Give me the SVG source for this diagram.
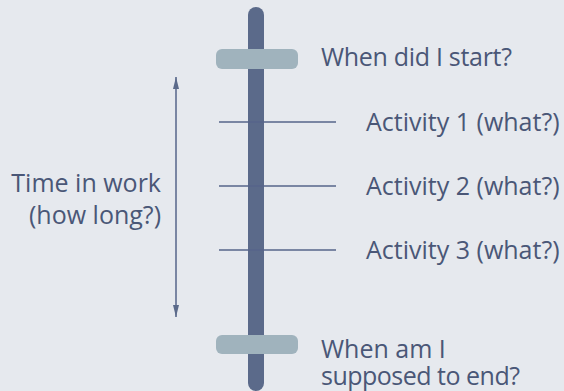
<svg xmlns="http://www.w3.org/2000/svg" width="564" height="391" viewBox="0 0 564 391">
  <style>
    .lbl { font-family: "Open Sans", "Noto Sans", sans-serif; font-size: 25px; fill: #4A5777; }
    .tick { stroke: #56658A; stroke-width: 1.5; fill: none; }
    .cap { fill: #A0B3BD; }
    .bar { fill: #5B6A8A; }
  </style>
  <defs>
    <marker id="ah" viewBox="0 0 12 6" refX="12" refY="3" markerWidth="12" markerHeight="6" markerUnits="userSpaceOnUse" orient="auto-start-reverse">
      <path d="M0,0 L12,3 L0,6 Z" fill="#5B6A8A"/>
    </marker>
  </defs>
  <rect width="564" height="391" fill="#E6E9EE"/>

  <!-- timeline spine -->
  <g id="spine">
    <rect class="bar" x="248" y="7" width="16" height="384" rx="8"/>
  </g>

  <!-- activity ticks and duration arrow -->
  <g id="connectors">
    <line class="tick" x1="219" y1="122" x2="336" y2="122"/>
    <line class="tick" x1="219" y1="186" x2="336" y2="186"/>
    <line class="tick" x1="219" y1="250" x2="336" y2="250"/>
    <line class="tick" x1="176" y1="77" x2="176" y2="317" marker-start="url(#ah)" marker-end="url(#ah)"/>
  </g>

  <g id="start">
    <rect class="cap" x="216" y="49" width="82" height="20" rx="6"/>
    <text class="lbl" x="321" y="66" textLength="191">When did I start?</text>
  </g>

  <g id="activity1">
    <text class="lbl" x="366" y="131">Activity 1 (what?)</text>
  </g>
  <g id="activity2">
    <text class="lbl" x="366" y="195">Activity 2 (what?)</text>
  </g>
  <g id="activity3">
    <text class="lbl" x="366" y="259">Activity 3 (what?)</text>
  </g>

  <g id="end">
    <rect class="cap" x="216" y="335" width="82" height="19" rx="6"/>
    <text class="lbl"><tspan x="321" y="358">When am I</tspan><tspan x="321" y="385" textLength="199">supposed to end?</tspan></text>
  </g>

  <g id="duration">
    <text class="lbl" text-anchor="end"><tspan x="161" y="192">Time in work</tspan><tspan x="161" y="224">(how long?)</tspan></text>
  </g>
</svg>
